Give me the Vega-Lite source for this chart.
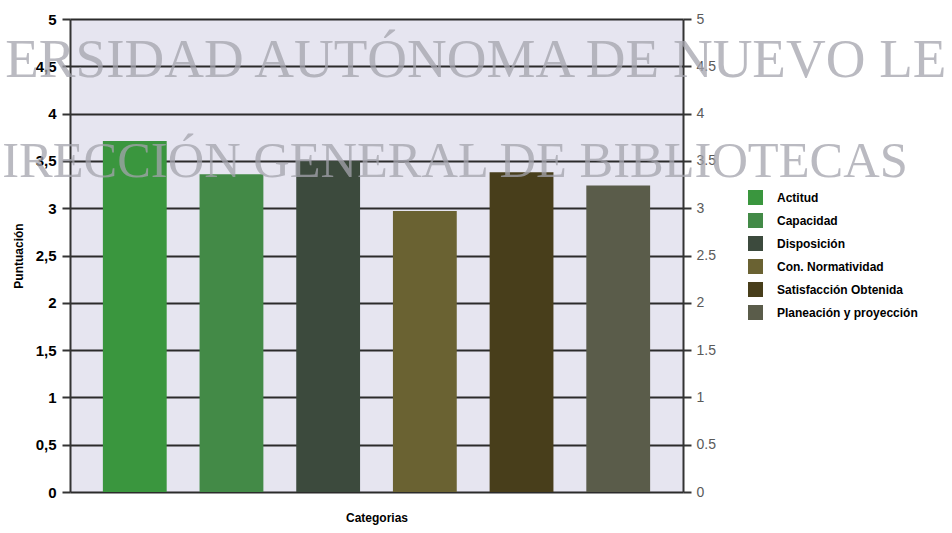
{
  "$schema": "https://vega.github.io/schema/vega-lite/v6.json",
  "autosize": "none",
  "width": 613,
  "height": 473,
  "padding": {"left": 70, "top": 19, "right": 269, "bottom": 41},
  "background": "#ffffff",
  "config": {
    "view": {"fill": "#e6e5f0", "stroke": null},
    "font": "Liberation Sans"
  },
  "layer": [
    {
      "data": {"values": [
        {"serie": "Actitud", "puntuacion": 3.71},
        {"serie": "Capacidad", "puntuacion": 3.36},
        {"serie": "Disposición", "puntuacion": 3.5},
        {"serie": "Con.  Normatividad", "puntuacion": 2.97},
        {"serie": "Satisfacción Obtenida", "puntuacion": 3.38},
        {"serie": "Planeación y proyección", "puntuacion": 3.24}
      ]},
      "mark": {"type": "bar"},
      "encoding": {
        "x": {
          "field": "serie", "type": "nominal", "sort": null,
          "scale": {"paddingInner": 0.34, "paddingOuter": 0.34},
          "axis": {"labels": false, "ticks": false, "domain": false, "title": "Categorias",
                   "titleFont": "Liberation Sans", "titleFontWeight": "bold", "titleFontSize": 12,
                   "titleColor": "#000000", "titlePadding": 20}
        },
        "y": {
          "field": "puntuacion", "type": "quantitative",
          "scale": {"domain": [0, 5], "nice": false},
          "axis": {
            "orient": "left",
            "values": [0, 0.5, 1, 1.5, 2, 2.5, 3, 3.5, 4, 4.5, 5],
            "format": "~g",
            "labelExpr": "replace(datum.label, '.', ',')",
            "grid": true, "gridColor": "#2b2b2b", "gridWidth": 2,
            "domain": true, "domainColor": "#333333", "domainWidth": 2,
            "ticks": true, "tickColor": "#333333", "tickWidth": 2, "tickSize": 8,
            "labelFont": "Liberation Sans", "labelFontWeight": "bold", "labelFontSize": 15,
            "labelColor": "#000000", "labelPadding": 6,
            "title": "Puntuación", "titleFont": "Liberation Sans", "titleFontWeight": "bold",
            "titleFontSize": 12, "titleColor": "#000000", "titlePadding": 10
          }
        },
        "color": {
          "field": "serie", "type": "nominal",
          "scale": {
            "domain": ["Actitud", "Capacidad", "Disposición", "Con.  Normatividad", "Satisfacción Obtenida", "Planeación y proyección"],
            "range": ["#3a963e", "#438a47", "#3c4a3d", "#6a6232", "#483e1b", "#5a5c4a"]
          },
          "legend": {
            "orient": "none", "legendX": 678, "legendY": 171, "title": null,
            "symbolType": "square", "symbolSize": 225, "symbolStrokeWidth": 0, "symbolOpacity": 1,
            "labelFont": "Liberation Sans", "labelFontWeight": "bold", "labelFontSize": 12,
            "labelColor": "#000000", "labelOffset": 14, "rowPadding": 8, "labelLimit": 300
          }
        }
      }
    },
    {
      "data": {"values": [
        {"serie": "Actitud", "puntuacion": 3.71},
        {"serie": "Planeación y proyección", "puntuacion": 3.24}
      ]},
      "mark": {"type": "bar", "opacity": 0},
      "encoding": {
        "x": {"field": "serie", "type": "nominal", "axis": null},
        "y": {
          "field": "puntuacion", "type": "quantitative",
          "scale": {"domain": [0, 5], "nice": false},
          "axis": {
            "orient": "right",
            "values": [0, 0.5, 1, 1.5, 2, 2.5, 3, 3.5, 4, 4.5, 5],
            "format": "~g",
            "grid": false,
            "domain": true, "domainColor": "#333333", "domainWidth": 2,
            "ticks": true, "tickColor": "#333333", "tickWidth": 2, "tickSize": 8,
            "labelFont": "Liberation Sans", "labelFontSize": 14, "labelColor": "#5a5a5a",
            "labelPadding": 5, "title": null
          }
        }
      }
    },
    {
      "data": {"values": [
        {"texto": "ERSIDAD AUTÓNOMA DE NUEVO LE", "px": 0.662, "py": 4.39}
      ]},
      "mark": {"type": "text", "font": "Liberation Serif", "fontSize": 55, "color": "#a4a4ad",
               "opacity": 0.75, "align": "center", "baseline": "alphabetic"},
      "encoding": {
        "x": {"field": "px", "type": "quantitative", "scale": {"domain": [0, 1]}, "axis": null},
        "y": {"field": "py", "type": "quantitative", "scale": {"domain": [0, 5], "nice": false}, "axis": null},
        "text": {"field": "texto"}
      }
    },
    {
      "data": {"values": [
        {"texto": "IRECCIÓN GENERAL DE BIBLIOTECAS", "px": 0.628, "py": 3.33}
      ]},
      "mark": {"type": "text", "font": "Liberation Serif", "fontSize": 50.5, "color": "#a4a4ad",
               "opacity": 0.75, "align": "center", "baseline": "alphabetic"},
      "encoding": {
        "x": {"field": "px", "type": "quantitative", "scale": {"domain": [0, 1]}, "axis": null},
        "y": {"field": "py", "type": "quantitative", "scale": {"domain": [0, 5], "nice": false}, "axis": null},
        "text": {"field": "texto"}
      }
    }
  ],
  "resolve": {"scale": {"x": "independent"}, "axis": {"y": "independent"}}
}
